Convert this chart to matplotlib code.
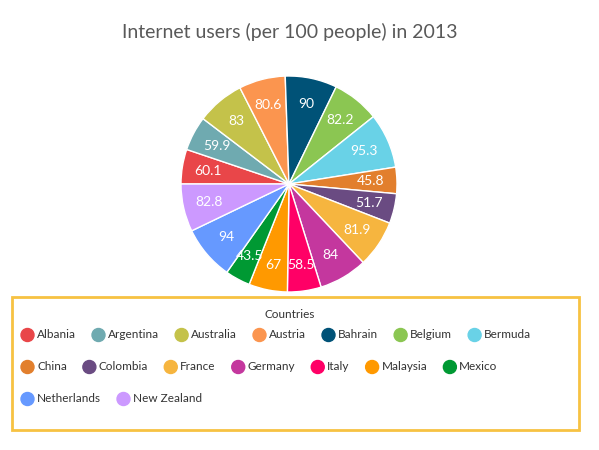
import matplotlib
matplotlib.use("Agg")
import matplotlib.pyplot as plt
from matplotlib.patches import Rectangle, Circle

countries = ["Albania", "Argentina", "Australia", "Austria", "Bahrain", "Belgium",
             "Bermuda", "China", "Colombia", "France", "Germany", "Italy",
             "Malaysia", "Mexico", "Netherlands", "New Zealand"]
users = [60.1, 59.9, 83, 80.6, 90, 82.2, 95.3, 45.8, 51.7, 81.9, 84, 58.5,
         67, 43.5, 94, 82.8]
colors = ["#E94649", "#6FAAB0", "#C4C24A", "#FB954F", "#005277", "#8BC652",
          "#69D2E7", "#E27F2D", "#6A4B82", "#F6B53F", "#C4379E", "#FF0066",
          "#FF9900", "#009933", "#6699FF", "#CC99FF"]

plt.rcParams['font.family'] = ['Lato', 'DejaVu Sans']

W, H = 599, 450
fig = plt.figure(figsize=(W / 100, H / 100), dpi=100)

# pie: centre (289, 184) px, radius 108 px
cx, cy, r = 289, 184, 108
ax = fig.add_axes([(cx - r) / W, (H - cy - r) / H, 2 * r / W, 2 * r / H])
wedges, texts = ax.pie(users, colors=colors, startangle=180, counterclock=False,
                       labels=[str(v) for v in users], labeldistance=0.76,
                       wedgeprops=dict(edgecolor="white", linewidth=1),
                       textprops=dict(color="white", fontsize=10))
for t in texts:
    t.set_horizontalalignment("center")
    t.set_verticalalignment("center")
ax.set_aspect("equal")
ax.set_xlim(-1, 1)
ax.set_ylim(-1, 1)

fig.text(290 / W, 1 - 32 / H, "Internet users (per 100 people) in 2013",
         ha="center", va="center", fontsize=14, color="#595959")

# legend, drawn in pixel space
lg = fig.add_axes([0, 0, 1, 1], facecolor="none")
lg.set_xlim(0, W)
lg.set_ylim(H, 0)
lg.axis("off")
lg.add_patch(Rectangle((12, 297), 567, 133, fill=False, edgecolor="#F7C242", lw=2))
lg.text(290, 314, "Countries", ha="center", va="center", fontsize=8.5, color="#333333")

fig.canvas.draw()
renderer = fig.canvas.get_renderer()
x = 21
row = 0
per_row = 7
row_y = [335, 367, 399]
for i, (name, col) in enumerate(zip(countries, colors)):
    if i > 0 and i % per_row == 0:
        row += 1
        x = 21
    y = row_y[row]
    lg.add_patch(Circle((x + 6.5, y), 6.5, color=col))
    t = lg.text(x + 16, y, name, ha="left", va="center", fontsize=8.5, color="#333333")
    w = t.get_window_extent(renderer).width
    x += 16 + w + 16

fig.savefig("out.png", dpi=100)
